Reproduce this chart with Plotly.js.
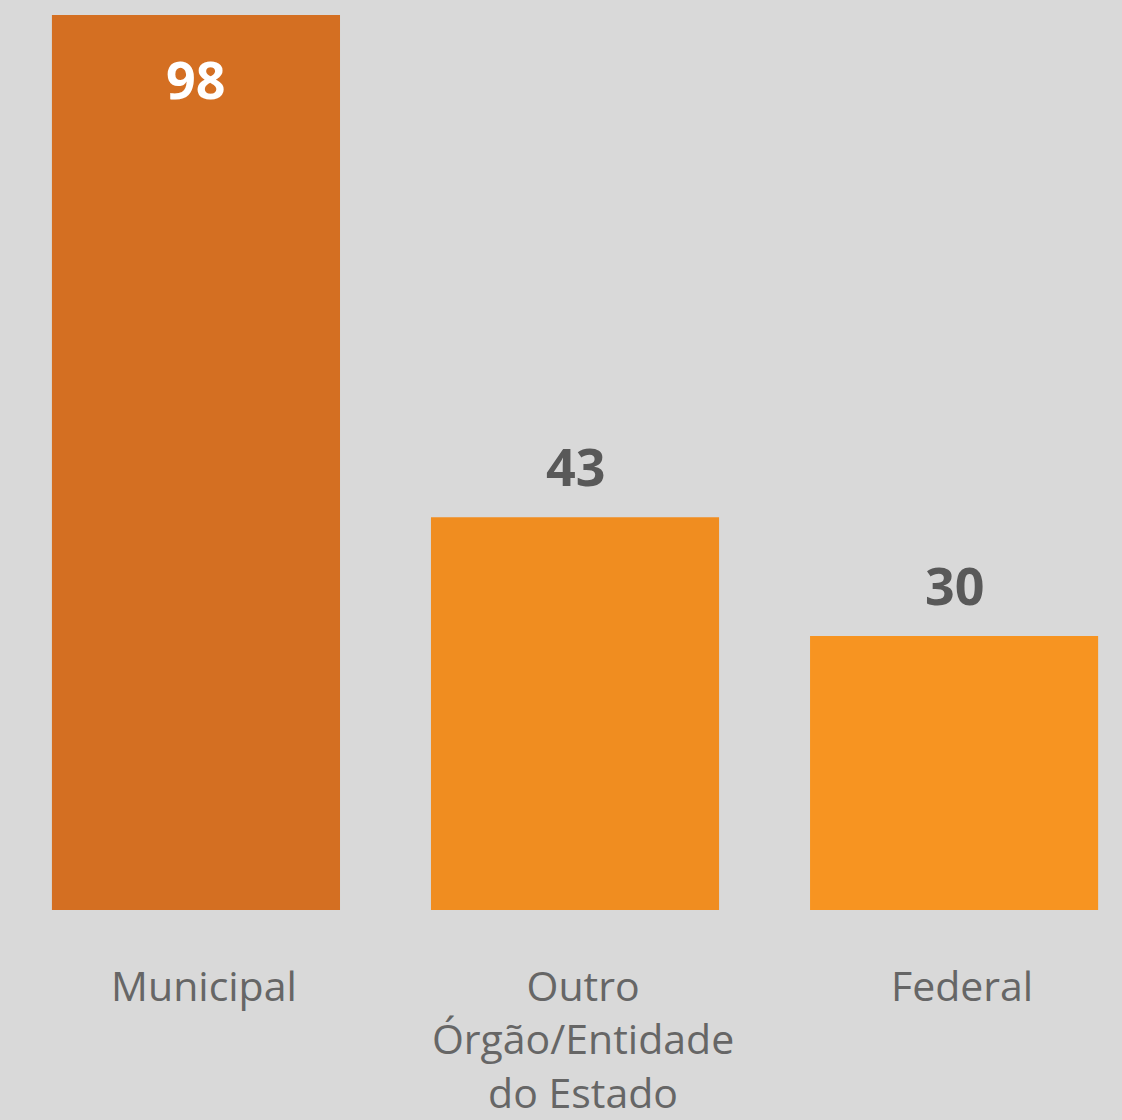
<!DOCTYPE html>
<html>
<head>
<meta charset="utf-8">
<script src="https://cdn.plot.ly/plotly-3.0.1.min.js"></script>
<style>html,body{margin:0;padding:0;background:#D9D9D9;}#chart{width:1122px;height:1120px;}</style>
</head>
<body>
<div id="chart"></div>
<script>
const categories = ["Municipal", "Outro<br>Órgão/Entidade<br>do Estado", "Federal"];
const values = [98, 43, 30];
const barColors = ["#D46F22", "#F08D20", "#F79421"];
const labelColors = ["#FFFFFF", "#595959", "#595959"];
const labelInside = [true, false, false];

const trace = {
  type: "bar",
  x: categories,
  y: values,
  marker: {color: barColors, line: {width: 0}},
  width: 0.76,
  hoverinfo: "none"
};

const annotations = values.map((v, i) => ({
  x: categories[i],
  y: v,
  xref: "x",
  yref: "y",
  text: String(v),
  showarrow: false,
  xanchor: "center",
  yanchor: "middle",
  yshift: labelInside[i] ? -64 : 52,
  font: {family: "Open Sans, sans-serif", size: 52, color: labelColors[i], weight: 700}
}));

const layout = {
  width: 1122,
  height: 1120,
  margin: {l: 0, r: 0, t: 0, b: 210, pad: 0},
  paper_bgcolor: "#D9D9D9",
  plot_bgcolor: "#D9D9D9",
  showlegend: false,
  annotations: annotations,
  xaxis: {
    type: "category",
    range: [-0.517, 2.443],
    showgrid: false, zeroline: false, showline: false,
    ticks: "",
    tickangle: 0,
    ticklabelstandoff: 49,
    ticklabelshift: 8,
    tickfont: {family: "Open Sans, sans-serif", size: 41, color: "#666666"}
  },
  yaxis: {
    range: [0, 99.64],
    visible: false,
    showgrid: false, zeroline: false
  }
};

Plotly.newPlot("chart", [trace], layout, {displayModeBar: false, staticPlot: true});
</script>
</body>
</html>
